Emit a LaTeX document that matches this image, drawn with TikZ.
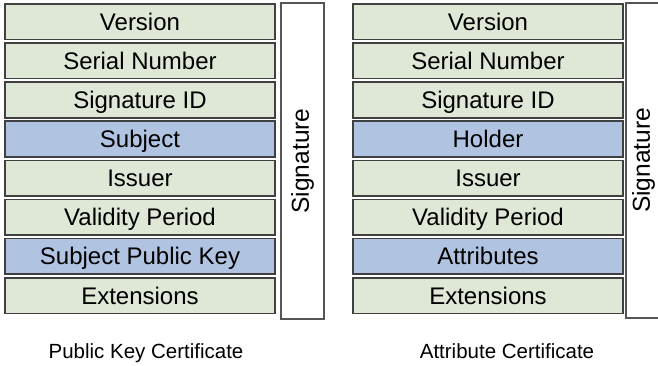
\documentclass[tikz,border=0pt]{standalone}
\usepackage{fontspec}
\setmainfont{Liberation Sans}
\usetikzlibrary{positioning}
\definecolor{certgreen}{HTML}{DFE7D7}
\definecolor{certblue} {HTML}{B0C4E2}
\definecolor{certline} {HTML}{404040}
\definecolor{certsig}  {HTML}{555555}
\tikzset{
  cfield/.style={draw=certline, fill=certgreen, line width=1.6pt, inner sep=0pt,
                 minimum width=270pt, minimum height=35.6pt,
                 text height=18pt, text depth=1pt,
                 font=\fontsize{24}{27}\selectfont},
  cfieldkey/.style={cfield, fill=certblue},
  csig/.style={draw=certsig, fill=white, line width=1.6pt, inner sep=0pt,
               rotate=90, font=\fontsize{24.5}{27}\selectfont},
  ccaption/.style={anchor=base, font=\fontsize{20.5}{24}\selectfont},
}
\begin{document}
\begin{tikzpicture}[x=1pt,y=-1pt, node distance=1.9pt]
  \useasboundingbox (0,0) rectangle (658,366);
  % public key certificate
  \node[cfield] (pk1) at (140,21.8) {Version};
  \node[cfield, below=of pk1] (pk2) {Serial Number};
  \node[cfield, below=of pk2] (pk3) {Signature ID};
  \node[cfieldkey, below=of pk3] (pk4) {Subject};
  \node[cfield, below=of pk4] (pk5) {Issuer};
  \node[cfield, below=of pk5] (pk6) {Validity Period};
  \node[cfieldkey, below=of pk6] (pk7) {Subject Public Key};
  \node[cfield, below=of pk7] (pk8) {Extensions};
  \node[csig, minimum width=316pt, minimum height=43pt] (pksig) at (302.5,161) {Signature};
  \node[ccaption] (pkcap) at (146,358) {Public Key Certificate};
  % attribute certificate
  \node[cfield] (ac1) at (488,21.8) {Version};
  \node[cfield, below=of ac1] (ac2) {Serial Number};
  \node[cfield, below=of ac2] (ac3) {Signature ID};
  \node[cfieldkey, below=of ac3] (ac4) {Holder};
  \node[cfield, below=of ac4] (ac5) {Issuer};
  \node[cfield, below=of ac5] (ac6) {Validity Period};
  \node[cfieldkey, below=of ac6] (ac7) {Attributes};
  \node[cfield, below=of ac7] (ac8) {Extensions};
  \node[csig, minimum width=315pt, minimum height=35pt] (acsig) at (643.5,160.5) {Signature};
  \node[ccaption] (accap) at (507,358) {Attribute Certificate};
\end{tikzpicture}
\end{document}
